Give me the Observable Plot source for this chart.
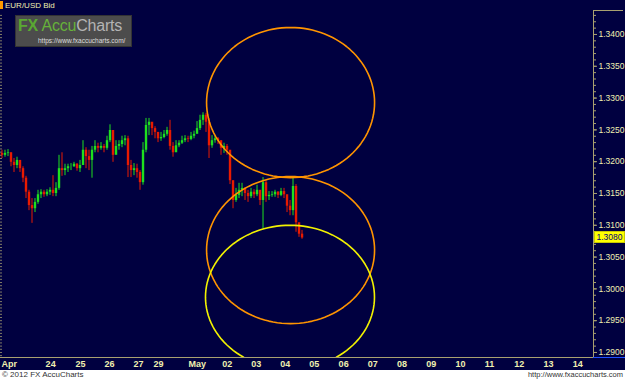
<!DOCTYPE html>
<html><head><meta charset="utf-8">
<script src="https://cdn.jsdelivr.net/npm/d3@7"></script>
<script src="https://cdn.jsdelivr.net/npm/@observablehq/plot@0.6"></script>
<style>
body{margin:0;background:#fff;}
#wrap{position:relative;width:625px;height:380px;overflow:hidden;font-family:"Liberation Sans",Arial,sans-serif;}
#chart svg{display:block;}
#footer{position:absolute;left:0;top:370px;width:625px;height:10px;background:#fff;font-size:8px;color:#333;line-height:10px;}
#footer .l{position:absolute;left:2px;}
#footer .r{position:absolute;right:2px;font-size:7.5px;}
#hdr{position:absolute;left:0;top:1px;height:10px;font-size:8px;color:#f0f0b0;line-height:10px;}
#hdr i{display:inline-block;width:3px;height:8px;background:#ff9a00;vertical-align:-1px;margin-right:2px;}
#logo{position:absolute;left:15px;top:15px;width:115px;height:30px;background:#4c4c4c;border:1px solid #333;}
#logo .t{position:absolute;left:2px;top:1px;font-size:16px;white-space:nowrap;letter-spacing:-0.2px;}
#logo .u{position:absolute;left:22px;top:21px;font-size:6.5px;color:#ddd;white-space:nowrap;}
#last{position:absolute;left:594px;width:29px;height:10px;background:#ffff00;color:#000080;font-size:8.5px;line-height:10px;text-align:center;border:1px solid #c8c800;box-sizing:content-box;}
#blue{position:absolute;left:593px;width:32px;height:1px;background:#2050ff;}
#toprule{position:absolute;left:593px;top:10px;width:30px;height:1px;background:#a8a070;}
</style></head>
<body>
<div id="wrap">
  <div id="chart"></div>
  <div id="hdr"><i></i>EUR/USD Bid</div>
  <div id="logo"><div class="t"><b style="color:#5aa832">FX</b> <span style="color:#66b23a">Accu</span><span style="color:#b4b4b4">Charts</span></div><div class="u">https://www.fxaccucharts.com/</div></div>
  <div id="toprule"></div>
  <div id="blue"></div>
  <div id="last"></div>
  <div id="footer"><span class="l">© 2012 FX AccuCharts</span><span class="r">http://www.fxaccucharts.com</span></div>
</div>
<script>
// ---- data ----
const closes = [1.3210,1.3213,1.3214,1.3199,1.3194,1.3202,1.3189,1.3174,1.3152,1.3131,
1.3126,1.3136,1.3148,1.3152,1.3148,1.3152,1.3155,1.3150,1.3158,1.3189,
1.3186,1.3189,1.3192,1.3192,1.3196,1.3189,1.3194,1.3218,1.3208,1.3202,
1.3218,1.3224,1.3221,1.3224,1.3221,1.3233,1.3249,1.3210,1.3224,1.3227,
1.3233,1.3236,1.3194,1.3186,1.3189,1.3183,1.3167,1.3218,1.3257,1.3262,
1.3252,1.3246,1.3236,1.3238,1.3243,1.3249,1.3224,1.3214,1.3225,1.3229,
1.3233,1.3236,1.3235,1.3240,1.3243,1.3252,1.3265,1.3273,1.3262,1.3225,
1.3233,1.3236,1.3233,1.3221,1.3224,1.3218,1.3170,1.3139,1.3147,1.3155,
1.3158,1.3150,1.3145,1.3152,1.3148,1.3155,1.3139,1.3167,1.3145,1.3147,
1.3148,1.3152,1.3147,1.3153,1.3148,1.3130,1.3123,1.3161,1.3104,1.3086,
1.3080];
const highs = [1.3218,1.3218,1.3219,1.3214,1.3205,1.3207,1.3199,1.3192,1.3177,1.3155,
1.3142,1.3142,1.3155,1.3156,1.3155,1.3156,1.3159,1.3178,1.3167,1.3210,
1.3214,1.3196,1.3196,1.3197,1.3199,1.3197,1.3202,1.3233,1.3222,1.3218,
1.3224,1.3233,1.3229,1.3230,1.3227,1.3240,1.3258,1.3249,1.3233,1.3233,
1.3240,1.3241,1.3240,1.3202,1.3197,1.3196,1.3186,1.3230,1.3268,1.3268,
1.3258,1.3255,1.3246,1.3246,1.3249,1.3254,1.3265,1.3230,1.3233,1.3233,
1.3240,1.3241,1.3240,1.3246,1.3248,1.3263,1.3273,1.3277,1.3276,1.3268,
1.3241,1.3240,1.3238,1.3230,1.3229,1.3227,1.3214,1.3170,1.3158,1.3166,
1.3166,1.3159,1.3155,1.3158,1.3156,1.3163,1.3152,1.3175,1.3170,1.3153,
1.3153,1.3155,1.3153,1.3158,1.3158,1.3145,1.3139,1.3174,1.3164,1.3095,
1.3092];
const lows = [1.3205,1.3207,1.3208,1.3192,1.3183,1.3189,1.3183,1.3167,1.3142,1.3123,
1.3103,1.3120,1.3133,1.3142,1.3144,1.3145,1.3147,1.3145,1.3145,1.3155,
1.3177,1.3178,1.3183,1.3186,1.3191,1.3185,1.3183,1.3194,1.3189,1.3186,
1.3174,1.3214,1.3214,1.3218,1.3214,1.3218,1.3230,1.3199,1.3214,1.3218,
1.3222,1.3225,1.3175,1.3175,1.3178,1.3174,1.3155,1.3163,1.3214,1.3241,
1.3241,1.3236,1.3230,1.3232,1.3236,1.3240,1.3218,1.3207,1.3218,1.3222,
1.3227,1.3230,1.3230,1.3233,1.3236,1.3244,1.3249,1.3257,1.3246,1.3205,
1.3221,1.3229,1.3227,1.3210,1.3213,1.3210,1.3164,1.3126,1.3136,1.3142,
1.3145,1.3139,1.3136,1.3142,1.3142,1.3145,1.3131,1.3095,1.3136,1.3139,
1.3144,1.3144,1.3142,1.3145,1.3142,1.3120,1.3115,1.3115,1.3089,1.3081,
1.3078];
const firstOpen = 1.3213;
const barDays = 0.1024;               // width of one bar, in days of the x axis
const xTickPos = [0.03,1.54,2.56,3.55,4.54,5.22,6.42,7.57,8.56,9.55,10.54,11.54,12.53,13.53,14.53,15.53,16.53,17.53,18.53,19.53];
const xTickLabels = ["Apr","24","25","26","27","29","May","02","03","04","05","06","07","08","09","10","11","12","13","14"];
const yTicks = [1.29,1.295,1.30,1.305,1.31,1.315,1.32,1.325,1.33,1.335,1.34];
const circleKind = ["orange","orange","yellow"];
const circleCx = [9.90,9.90,9.88];
const circleCy = [1.3293,1.3061,1.2987];
const circleRx = [2.867,2.867,2.884];
const circleRy = [0.0118,0.01156,0.0113];
const lastPrice = 1.3080;

// ---- derived tables ----
const candles = closes.map((c,i)=>({
  x:(i+0.5)*barDays, open: i===0?firstOpen:closes[i-1], close:c, high:highs[i], low:lows[i]
}));
const circlePts = [];
circleKind.forEach((k,j)=>{
  for(let a=0;a<=360;a+=3){
    const t=a*Math.PI/180;
    circlePts.push({id:j,kind:k,x:circleCx[j]+circleRx[j]*Math.cos(t),y:circleCy[j]+circleRy[j]*Math.sin(t)});
  }
});
const xDomain=[0,20.239], yDomain=[1.28921,1.34377];
const labelMap=new Map(xTickPos.map((p,i)=>[p,xTickLabels[i]]));
const up = d=>d.close>=d.open;
const col = d=>up(d)?"#1ee01e":"#e81a00";

const chart = Plot.plot({
  width:625, height:370,
  marginLeft:0, marginRight:32, marginTop:10, marginBottom:13,
  style:{background:"#000040",color:"#f0f0b0",fontFamily:"Liberation Sans, Arial, sans-serif",fontSize:"8.5px"},
  x:{domain:xDomain, axis:null},
  y:{domain:yDomain, axis:null},
  marks:[
    Plot.axisY({anchor:"left",ticks:d3.range(1.2895,1.3435,0.0005),tickSize:-2,text:null,label:null,stroke:"#a09a70",strokeOpacity:0.8}),
    Plot.ruleX(candles,{x:"x",y1:"low",y2:"high",stroke:col,strokeWidth:1}),
    Plot.ruleX(candles,{x:"x",y1:"open",y2:"close",stroke:col,strokeWidth:2.4}),
    Plot.line(circlePts,{x:"x",y:"y",z:"id",stroke:d=>d.kind==="orange"?"#ff9400":"#f2f200",strokeWidth:1.6,clip:true}),
    Plot.ruleX([xDomain[1]],{stroke:"#a8a070"}),
    Plot.ruleY([yDomain[0]],{stroke:"#a8a070"}),
    Plot.axisY({anchor:"right",ticks:d3.range(1.290,1.3435,0.001),tickSize:2,text:null,label:null,stroke:"#a8a070"}),
    Plot.axisY({anchor:"right",ticks:yTicks,tickSize:3,tickPadding:2,tickFormat:d=>d.toFixed(4),label:null,stroke:"#a8a070",fill:"#f0f0b0",fontSize:8.5}),
    Plot.axisX({ticks:xTickPos,tickFormat:d=>labelMap.get(d),textAnchor:"start",tickSize:0,tickPadding:3,label:null,fill:"#f0f0b0",fontSize:9,fontWeight:"bold"})
  ]
});
document.getElementById("chart").append(chart);
const ys = chart.scale("y").apply(lastPrice);
const last = document.getElementById("last");
last.textContent = lastPrice.toFixed(4);
last.style.top = (ys-6)+"px";
document.getElementById("blue").style.top = chart.scale("y").apply(yDomain[0])+"px";
</script>
</body></html>
